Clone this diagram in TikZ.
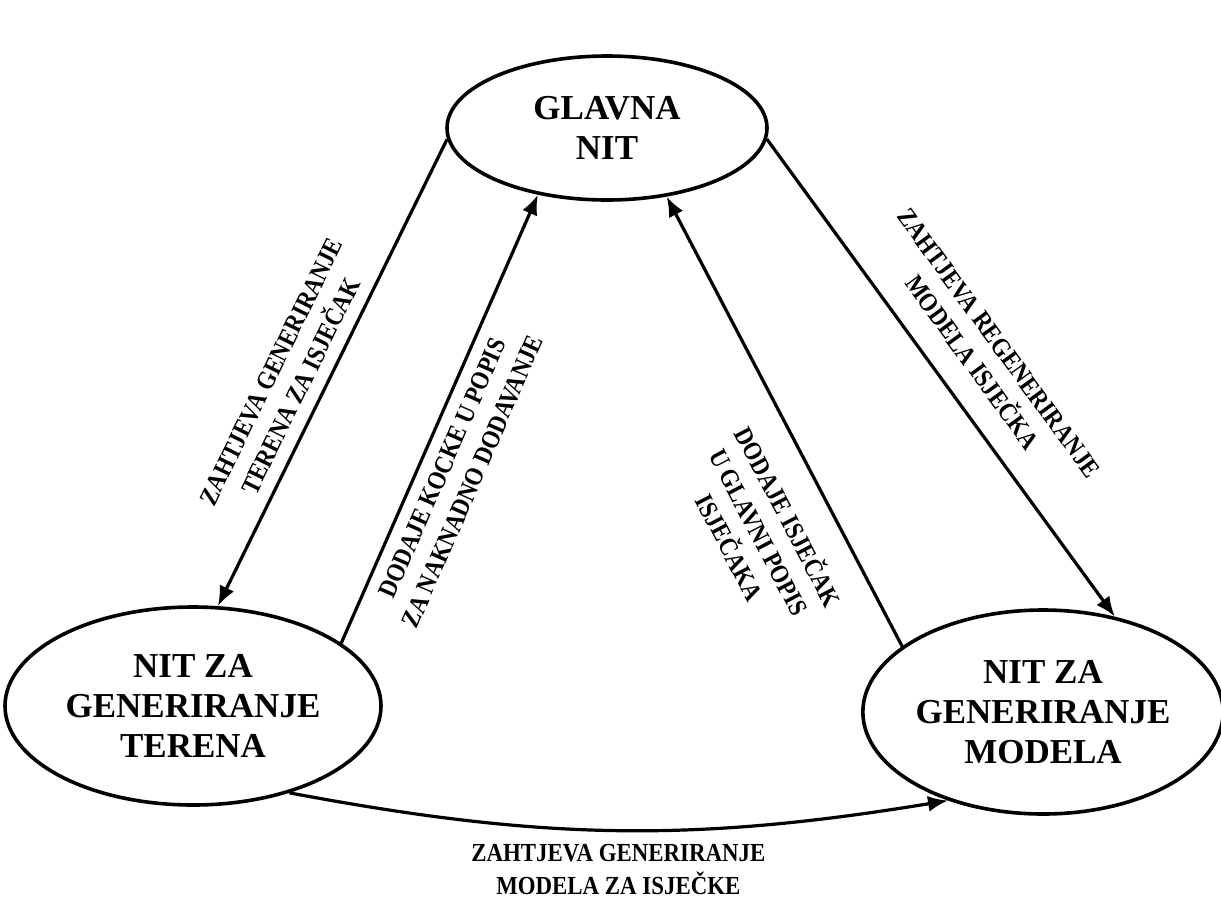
\documentclass[tikz,border=0pt]{standalone}
\usepackage{fontspec}
\setmainfont{Liberation Serif}
\newfontfamily\edgefont[FakeStretch=0.88]{Liberation Serif}
\usetikzlibrary{shapes,arrows.meta}

\begin{document}
\begin{tikzpicture} [x=0.5pt,y=-0.5pt,
  thread/.style= {shape=ellipse,draw,line width=1.8pt,inner sep=0,align=center,font=\bfseries\fontsize{17.5}{20}\selectfont},
  msg/.style= {-{Latex[length=10pt,width=8pt]},line width=1.6pt},
  lbl/.style= {align=center,inner sep=1pt,font=\edgefont\bfseries\fontsize{13}{16.5}\selectfont}]
  \useasboundingbox (0,0) rectangle (1221,917);
  % Threads
  \node[thread,minimum width=160pt,minimum height=72pt]  (main)    at (607,128) {GLAVNA\\NIT};
  \node[thread,minimum width=188pt,minimum height=99pt]  (terrain) at (193,706) {NIT ZA\\GENERIRANJE\\TERENA};
  \node[thread,minimum width=178pt,minimum height=102pt] (model)   at (1043,712) {NIT ZA\\GENERIRANJE\\MODELA};
  % Messages
  \draw[msg] (main.184) -- (terrain.76) node[lbl,sloped,above=5pt,pos=0.55] {ZAHTJEVA GENERIRANJE\\TERENA ZA ISJEČAK};
  \draw[msg] (terrain.23) -- (main.224) node[lbl,sloped,below=5pt,pos=0.41] {DODAJE KOCKE U POPIS\\ZA NAKNADNO DODAVANJE};
  \draw[msg] (model.155) -- (main.311) node[lbl,sloped,below=12pt,pos=0.33] {DODAJE ISJEČAK\\U GLAVNI POPIS\\ISJEČAKA};
  \draw[msg] (main.356) -- (model.53) node[lbl,sloped,above=11pt,pos=0.51] {ZAHTJEVA REGENERIRANJE\\MODELA ISJEČKA};
  \draw[msg] (terrain.318) to[bend right=10] node[lbl,below=5pt] {ZAHTJEVA GENERIRANJE\\MODELA ZA ISJEČKE} (model.223);
\end{tikzpicture}
\end{document}
